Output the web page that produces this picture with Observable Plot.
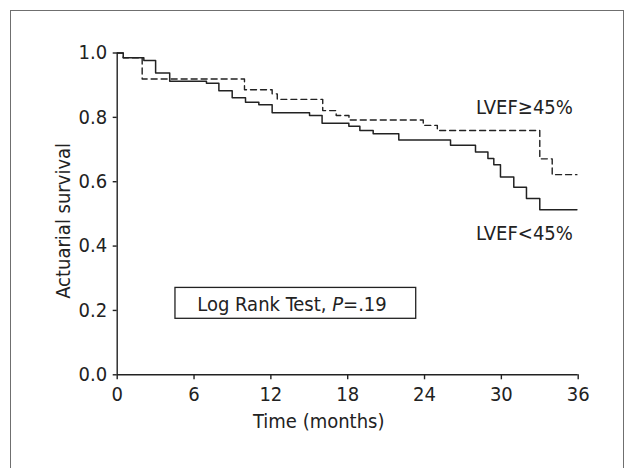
<!DOCTYPE html>
<html>
<head>
<meta charset="utf-8">
<script src="https://cdn.jsdelivr.net/npm/d3@7"></script>
<script src="https://cdn.jsdelivr.net/npm/@observablehq/plot@0.6"></script>
<style>
  html, body { margin: 0; padding: 0; background: #fff; overflow: hidden; }
  #wrap { position: relative; width: 626px; height: 468px; overflow: hidden; }
  #frame { position: absolute; left: 10px; top: 10px; width: 612px; height: 500px; border: 1.5px solid #6f6f6f; pointer-events: none; }
  #chart { position: absolute; left: 0; top: 0; }
</style>
</head>
<body>
<div id="wrap"><div id="chart"></div><div id="frame"></div></div>
<script>
// Data (time in months, actuarial survival)
const lowTime = [0, 0.47, 2.08, 3.0, 4.1, 6.97, 7.94, 8.98, 10.02, 11.06, 12.1, 15.02, 16.0, 18.09, 18.95, 19.99, 21.99, 26.03, 27.98, 28.95, 29.41, 29.93, 30.97, 31.96, 33.0, 35.9];
const lowSurv = [1.0, 0.985, 0.977, 0.938, 0.912, 0.906, 0.883, 0.861, 0.847, 0.839, 0.814, 0.806, 0.782, 0.772, 0.759, 0.749, 0.730, 0.713, 0.692, 0.672, 0.653, 0.615, 0.583, 0.548, 0.513, 0.513];
const highTime = [0, 0.47, 1.95, 9.94, 12.1, 12.5, 16.05, 17.1, 18.1, 23.9, 25.0, 33.0, 33.97, 35.9];
const highSurv = [1.0, 0.985, 0.919, 0.886, 0.873, 0.856, 0.821, 0.806, 0.792, 0.775, 0.759, 0.671, 0.622, 0.622];
const xTicks = [0, 6, 12, 18, 24, 30, 36];
const yTicks = [0, 0.2, 0.4, 0.6, 0.8, 1.0];
const seriesLabels = [
  {label: "LVEF≥45%", x: 31.8, y: 0.830},
  {label: "LVEF<45%", x: 31.8, y: 0.438}
];
const testBox = [{x1: 4.55, x2: 23.35, y1: 0.174, y2: 0.270}];
const testText = [{label: "Log Rank Test, P=.19", x: 6.25, y: 0.217}];

const low = lowTime.map((t, i) => ({t, s: lowSurv[i]}));
const high = highTime.map((t, i) => ({t, s: highSurv[i]}));

const ink = "#222";
const plot = Plot.plot({
  width: 626,
  height: 468,
  marginLeft: 116.7,
  marginRight: 48.3,
  marginTop: 52.5,
  marginBottom: 93.7,
  style: {fontFamily: "'DejaVu Sans Condensed', 'Liberation Sans Narrow', sans-serif", fontSize: "20px", color: ink, background: "transparent"},
  x: {domain: [0, 36]},
  y: {domain: [0, 1]},
  marks: [
    Plot.ruleY([0], {x1: 0, x2: 36, stroke: ink, strokeWidth: 1.4}),
    Plot.ruleX([0], {y1: 0, y2: 1, stroke: ink, strokeWidth: 1.4}),
    Plot.axisX({ticks: xTicks, tickSize: 5, tickPadding: 7, label: null, stroke: ink, strokeWidth: 1.4, fill: ink}),
    Plot.axisY({ticks: yTicks, tickSize: 4, tickPadding: 6, tickFormat: d3.format(".1f"), label: null, stroke: ink, strokeWidth: 1.4, fill: ink}),
    Plot.line(high, {x: "t", y: "s", curve: "step-after", stroke: ink, strokeWidth: 1.4, strokeDasharray: "6,4"}),
    Plot.line(low, {x: "t", y: "s", curve: "step-after", stroke: ink, strokeWidth: 1.5}),
    Plot.text(seriesLabels, {x: "x", y: "y", text: "label", textAnchor: "middle", lineAnchor: "middle", fill: ink}),
    Plot.rect(testBox, {x1: "x1", x2: "x2", y1: "y1", y2: "y2", fill: "none", stroke: ink, strokeWidth: 1.3}),
    Plot.text(testText, {x: "x", y: "y", text: "label", textAnchor: "start", lineAnchor: "middle", fill: ink, className: "lrtext"}),
    Plot.text(["Time (months)"], {frameAnchor: "bottom", textAnchor: "middle", lineAnchor: "middle", dx: -29, dy: 47, fill: ink}),
    Plot.text(["Actuarial survival"], {frameAnchor: "left", textAnchor: "middle", lineAnchor: "middle", rotate: -90, dx: -54, dy: 7, fill: ink})
  ]
});
document.getElementById("chart").appendChild(plot);
// italic P in the log-rank annotation
d3.select(plot).selectAll(".lrtext text").each(function() {
  const el = d3.select(this);
  const t = el.text();
  const i = t.indexOf("P=");
  if (i >= 0) {
    el.text(null);
    el.append("tspan").text(t.slice(0, i));
    el.append("tspan").attr("font-style", "italic").text("P");
    el.append("tspan").text(t.slice(i + 1));
  }
});
</script>
</body>
</html>
